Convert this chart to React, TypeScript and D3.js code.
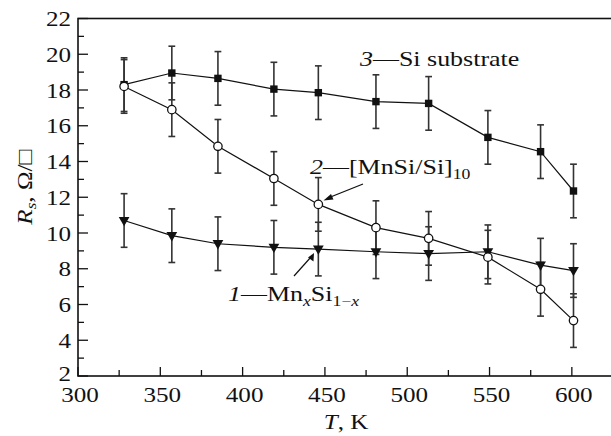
import React from "react";
import * as d3 from "d3";

// temperatures, K
const temps = [328, 357, 385, 419, 446, 481, 513, 549, 581, 601];
// sheet resistance, Ohm/sq
const mnxSi = [10.7, 9.85, 9.4, 9.2, 9.1, 8.95, 8.85, 8.95, 8.2, 7.9];
const mnSiSi = [18.2, 16.9, 14.85, 13.05, 11.6, 10.3, 9.7, 8.65, 6.85, 5.1];
const substrate = [18.3, 18.95, 18.65, 18.05, 17.85, 17.35, 17.25, 15.35, 14.55, 12.35];
const errBar = 1.5;

const xTicks = [300, 350, 400, 450, 500, 550, 600];
const xMinor = [325, 375, 425, 475, 525, 575, 625];
const yTicks = [2, 4, 6, 8, 10, 12, 14, 16, 18, 20, 22];
const yMinor = [3, 5, 7, 9, 11, 13, 15, 17, 19, 21];

const FONT = "Liberation Serif, Times New Roman, serif";

// the original typeface is wider than Times, so stretch text horizontally
const Label = ({ x, y, sx = 1.14, anchor = "start", rotate = 0, children }: any) => (
  <text
    transform={`translate(${x},${y}) rotate(${rotate}) scale(${sx},1)`}
    textAnchor={anchor}
    fontSize={22}
    fill="#111"
  >
    {children}
  </text>
);

const App = () => {
  const width = 611;
  const height = 436;
  const margin = { left: 78, top: 18.5, right: 613, bottom: 376 };

  const x = d3.scaleLinear().domain([300, 625]).range([margin.left, margin.right]);
  const y = d3.scaleLinear().domain([2, 22]).range([margin.bottom, margin.top]);

  const line = d3
    .line<number>()
    .x((_, i) => x(temps[i]))
    .y((d) => y(d));

  const errorBars = (vals: number[], key: string) =>
    vals.map((v, i) => {
      const cx = x(temps[i]);
      const y0 = y(v - errBar);
      const y1 = y(v + errBar);
      return (
        <g key={key + i} stroke="#333" strokeWidth={1.6}>
          <line x1={cx} x2={cx} y1={y0} y2={y1} />
          <line x1={cx - 3.4} x2={cx + 3.4} y1={y0} y2={y0} />
          <line x1={cx - 3.4} x2={cx + 3.4} y1={y1} y2={y1} />
        </g>
      );
    });

  const tri = d3.symbol(d3.symbolTriangle, 50)();

  return (
    <svg
      width={width}
      height={height}
      style={{ position: "absolute", left: 0, top: 0, background: "#fff", fontFamily: FONT }}
    >
      {/* frame */}
      <rect
        x={margin.left}
        y={margin.top}
        width={margin.right - margin.left}
        height={margin.bottom - margin.top}
        fill="none"
        stroke="#111"
        strokeWidth={1.6}
      />

      {/* x ticks, inward */}
      {xTicks.map((t) => (
        <g key={"xt" + t}>
          <line x1={x(t)} x2={x(t)} y1={margin.bottom} y2={margin.bottom - 9} stroke="#111" strokeWidth={1.3} />
          <Label x={x(t) + 2} y={402} anchor="middle">{t}</Label>
        </g>
      ))}
      {xMinor.map((t) => (
        <line key={"xm" + t} x1={x(t)} x2={x(t)} y1={margin.bottom} y2={margin.bottom - 6} stroke="#111" strokeWidth={1.3} />
      ))}

      {/* y ticks, inward */}
      {yTicks.map((t) => (
        <g key={"yt" + t}>
          <line x1={margin.left} x2={margin.left + 10} y1={y(t)} y2={y(t)} stroke="#111" strokeWidth={1.3} />
          <Label x={71} y={y(t) + (t === 2 ? 5 : 7.5)} anchor="end">{t}</Label>
        </g>
      ))}
      {yMinor.map((t) => (
        <line key={"ym" + t} x1={margin.left} x2={margin.left + 6} y1={y(t)} y2={y(t)} stroke="#111" strokeWidth={1.3} />
      ))}

      {/* axis titles */}
      <Label x={346} y={429} anchor="middle">
        <tspan fontStyle="italic">T</tspan>, K
      </Label>
      <Label x={32} y={187} anchor="middle" rotate={-90}>
        <tspan fontStyle="italic">R</tspan>
        <tspan fontStyle="italic" fontSize={15} dy={4}>s</tspan>
        <tspan dy={-4}>, Ω/□</tspan>
      </Label>

      {/* error bars */}
      {errorBars(substrate, "e3")}
      {errorBars(mnSiSi, "e2")}
      {errorBars(mnxSi, "e1")}

      {/* series lines */}
      <path d={line(substrate) ?? ""} fill="none" stroke="#111" strokeWidth={1.2} />
      <path d={line(mnSiSi) ?? ""} fill="none" stroke="#111" strokeWidth={1.2} />
      <path d={line(mnxSi) ?? ""} fill="none" stroke="#111" strokeWidth={1.2} />

      {/* markers */}
      {substrate.map((v, i) => (
        <rect key={"s" + i} x={x(temps[i]) - 3.7} y={y(v) - 3.7} width={7.4} height={7.4} fill="#111" />
      ))}
      {mnxSi.map((v, i) => (
        <path
          key={"t" + i}
          d={tri ?? ""}
          transform={`translate(${x(temps[i])},${y(v) - 0.5}) rotate(180)`}
          fill="#111"
        />
      ))}
      {mnSiSi.map((v, i) => (
        <circle key={"c" + i} cx={x(temps[i])} cy={y(v)} r={4.2} fill="#fff" stroke="#111" strokeWidth={1.3} />
      ))}

      {/* annotations */}
      <Label x={360} y={66} sx={1.18}>
        <tspan fontStyle="italic">3</tspan>—Si substrate
      </Label>

      <Label x={310} y={174} sx={1.18}>
        <tspan fontStyle="italic">2</tspan>—[MnSi/Si]
        <tspan fontSize={15} dy={5}>10</tspan>
      </Label>
      <line x1={363} y1={184} x2={328} y2={198} stroke="#111" strokeWidth={1.2} />
      <path d="M323.5,200.5 L331,194 L333.5,199.5 Z" fill="#111" />

      <Label x={228} y={301} sx={1.18}>
        <tspan fontStyle="italic">1</tspan>—Mn
        <tspan fontStyle="italic" fontSize={15} dy={5}>x</tspan>
        <tspan dy={-5}>Si</tspan>
        <tspan fontSize={15} dy={5}>1−</tspan>
        <tspan fontStyle="italic" fontSize={15}>x</tspan>
      </Label>
      <line x1={294} y1={276} x2={311} y2={257} stroke="#111" strokeWidth={1.2} />
      <path d="M314,253 L313.5,261.5 L308,257.5 Z" fill="#111" />
    </svg>
  );
};

export default App;
